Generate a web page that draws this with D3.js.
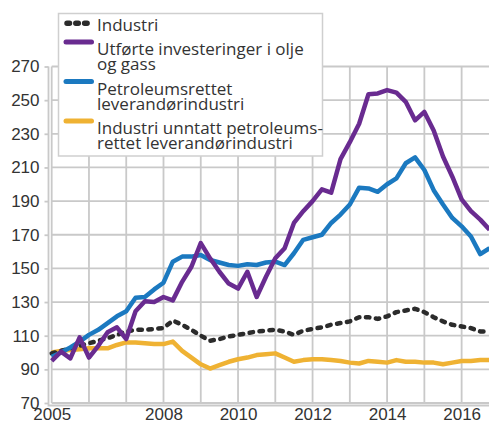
<!DOCTYPE html>
<html>
<head>
<meta charset="utf-8">
<title>Industri og petroleum</title>
<style>
body { margin: 0; background: #ffffff; }
svg { display: block; font-family: "Open Sans", sans-serif; }
.grid line { stroke: #c9c9c9; stroke-width: 1.8; }
.axisline { stroke: #c9c9c9; stroke-width: 1.8; fill: none; }
.tick text { fill: #333333; font-size: 17px; }
.legend text { fill: #333333; font-size: 17px; }
</style>
</head>
<body>
<svg width="489" height="424"></svg>
<script src="https://d3js.org/d3.v7.min.js"></script>
<script>

// quarterly index, 2005K1 - 2016K4
var startYear = 2005;

var industri = [99.5, 101, 102.5, 104, 105.5, 107, 108.5, 110.5, 112.5, 113.5, 113.5, 114,
  114.5, 119, 116.5, 113.5, 110, 107, 108, 109.5, 110.5, 111.5, 112.5, 113,
  113.5, 112.5, 110.5, 113, 114, 115, 116.5, 117.5, 118.5, 121, 121, 120,
  121.5, 124, 125, 126, 124, 121, 118.5, 116.5, 115.5, 114.5, 112.5, 112.5];

var oljeGass = [95, 100.5, 96.5, 109, 97, 104, 112, 115, 108, 124.5, 130.5, 130,
  133, 131, 142, 151, 165, 156, 148, 141, 138, 148, 133, 145,
  156, 162, 177, 184, 190, 197, 195, 215, 225, 236, 253.5, 254,
  256, 254.5, 249, 238, 243, 232, 216.5, 204.5, 191, 184, 179, 173];

var petroleum = [97.5, 100, 103, 106.5, 110.5, 113.5, 117.5, 121.5, 124.5, 132.5, 133, 137.5,
  141.5, 154, 157, 157, 158, 155, 153.5, 152, 151.5, 152.5, 152, 153.5,
  154, 152, 159, 167, 168.5, 170, 177, 182, 188, 198, 197.5, 195.5,
  200, 203.5, 212.5, 216, 208.5, 196.5, 188, 180, 175, 169, 158.5, 162];

var unntatt = [100, 101, 101.5, 102, 102.5, 102.5, 102.5, 104.5, 106, 106, 105.5, 105,
  105, 106.5, 101, 97, 93, 90.5, 92.5, 94.5, 96, 97, 98.5, 99,
  99.5, 97, 94.5, 95.5, 96, 96, 95.5, 95, 94, 93.5, 95, 94.5,
  94, 95.5, 94.5, 94.5, 94, 94, 93, 94, 95, 95, 95.5, 95.5];

var yTicks = [70, 90, 110, 130, 150, 170, 190, 210, 230, 250, 270];
var xLabels = [2005, 2008, 2010, 2012, 2014, 2016];
var xGrid = [2005, 2006, 2007, 2008, 2009, 2010, 2011, 2012, 2013, 2014, 2015, 2016];

var legendLabels = [
  ["Industri"],
  ["Utførte investeringer i olje", "og gass"],
  ["Petroleumsrettet", "leverandørindustri"],
  ["Industri unntatt petroleums-", "rettet leverandørindustri"]
];

var series = [
  { name: "unntatt", values: unntatt, color: "#efb233", dash: null },
  { name: "industri", values: industri, color: "#2b2b2b", dash: "3.5,6.5" },
  { name: "petroleum", values: petroleum, color: "#1b79c0", dash: null },
  { name: "olje", values: oljeGass, color: "#692b90", dash: null }
];
var legendStyle = [series[1], series[3], series[2], series[0]];

var svg = d3.select("svg"),
    width = +svg.attr("width"),
    height = +svg.attr("height");

var x = d3.scaleLinear().domain([2005, 2017]).range([51.7, 498.9]);
var y = d3.scaleLinear().domain([70, 270]).range([403, 66.5]);

// grid
var grid = svg.append("g").attr("class", "grid");
grid.selectAll(".h").data(yTicks).enter().append("line")
    .attr("x1", x(2005)).attr("x2", width)
    .attr("y1", function(d) { return y(d); })
    .attr("y2", function(d) { return y(d); });
grid.selectAll(".v").data(xGrid).enter().append("line")
    .attr("x1", function(d) { return x(d); })
    .attr("x2", function(d) { return x(d); })
    .attr("y1", y(270)).attr("y2", y(70));

// axes
var yAxis = d3.axisLeft(y).tickValues(yTicks).tickSize(4).tickPadding(5);
var gy = svg.append("g").attr("transform", "translate(48.5,0)").call(yAxis);
gy.select(".domain").remove();
gy.selectAll(".tick line").attr("stroke", "#c9c9c9").attr("stroke-width", 1.8);
gy.selectAll(".tick text").attr("font-family", null).attr("font-size", null);

svg.append("path").attr("class", "axisline")
    .attr("d", "M48.5," + y(270) + "V" + (y(70) + 2.5) + "H" + width);

var xAxis = d3.axisBottom(x).tickValues(xLabels).tickFormat(d3.format("d")).tickSize(0).tickPadding(2.5);
var gx = svg.append("g").attr("transform", "translate(0," + (y(70) + 2.5) + ")").call(xAxis);
gx.select(".domain").remove();
gx.selectAll(".tick text").attr("font-family", null).attr("font-size", null);

// lines
var line = d3.line()
    .x(function(d, i) { return x(startYear + i / 4); })
    .y(function(d) { return y(d); });

svg.selectAll(".series").data(series).enter().append("path")
    .attr("class", "series")
    .attr("fill", "none")
    .attr("stroke", function(d) { return d.color; })
    .attr("stroke-width", 4.5)
    .attr("stroke-linejoin", "round")
    .attr("stroke-linecap", function(d) { return d.dash ? "round" : "butt"; })
    .attr("stroke-dasharray", function(d) { return d.dash; })
    .attr("d", function(d) { return line(d.values); });

// legend
var legend = svg.append("g").attr("class", "legend");
legend.append("rect")
    .attr("x", 58.5).attr("y", 13.5).attr("width", 264).attr("height", 142.5)
    .attr("fill", "#ffffff").attr("stroke", "#cfcfcf").attr("stroke-width", 1.5);

var baseline = 30.5;
legendLabels.forEach(function(lines, i) {
  var s = legendStyle[i];
  var sy = lines.length > 1 ? baseline - 13 : baseline - 7.3;
  legend.append("line")
      .attr("x1", s.dash ? 67 : 66).attr("x2", s.dash ? 91 : 91.5)
      .attr("y1", sy).attr("y2", sy)
      .attr("stroke", s.color).attr("stroke-width", s.dash ? 5.5 : 5)
      .attr("stroke-linecap", "round")
      .attr("stroke-dasharray", s.dash ? "2.5,6.3" : null);
  var t = legend.append("text").attr("x", 97).attr("y", baseline);
  lines.forEach(function(l, j) {
    t.append("tspan").attr("x", 97).attr("dy", j === 0 ? 0 : 15).text(l);
  });
  baseline += lines.length * 15 + 9.5;
});

</script>
</body>
</html>
